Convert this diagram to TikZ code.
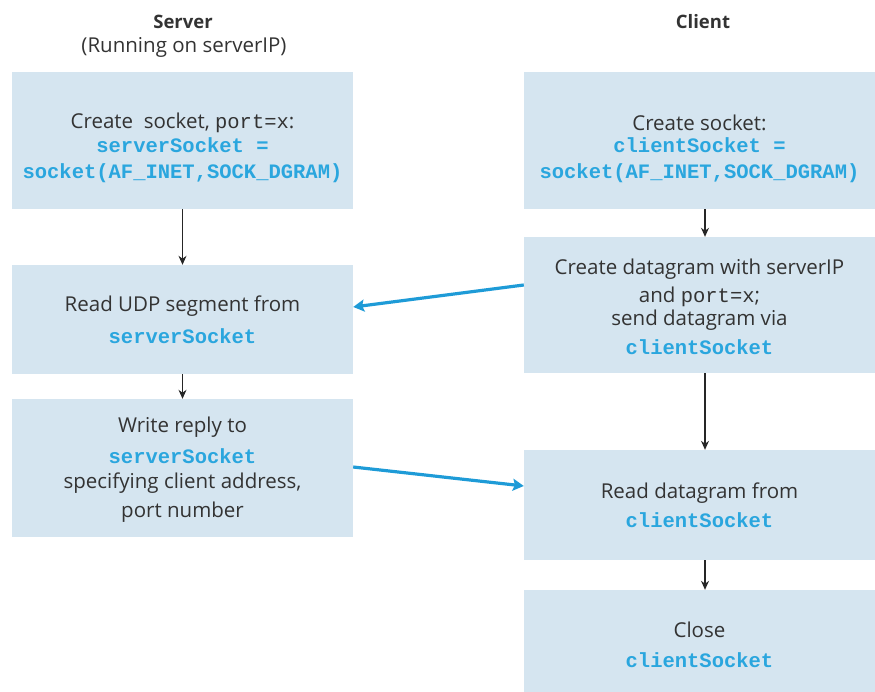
\documentclass[tikz,border=0pt]{standalone}
\usepackage{fontspec}
\setmainfont{Open Sans}
\setmonofont{Liberation Mono}
\usetikzlibrary{arrows.meta}
\definecolor{boxfill}{HTML}{D5E5F0}
\definecolor{codeblue}{HTML}{2AA6DE}
\definecolor{arrowblue}{HTML}{1E9BD7}
\definecolor{txt}{HTML}{333333}
\newcommand{\cde}[1]{{\fontsize{20.5}{26}\selectfont\ttfamily\bfseries\color{codeblue}#1}}
\newcommand{\ctt}[1]{{\fontsize{20.5}{26}\selectfont\ttfamily #1}}
\tikzset{
  stepbox/.style={rectangle, fill=boxfill, inner sep=0pt},
  boxtext/.style={inner sep=0pt, align=center, text=txt,
    font=\fontsize{20.5}{27}\selectfont},
  flow/.style={draw=black!85, line width=1.1pt, -{Stealth[length=9pt,width=8pt]}},
  msg/.style={draw=arrowblue, line width=3.2pt, -{Stealth[length=11pt,width=12pt,inset=2pt]}},
  title/.style={text=txt, font=\fontsize{20.5}{24}\selectfont},
  headtitle/.style={text=txt, font=\fontsize{18.5}{24}\selectfont\bfseries}
}
\begin{document}
\begin{tikzpicture}[x=1pt,y=-1pt]
\useasboundingbox (0,0) rectangle (875,692);
% titles
\node[headtitle] (st) at (183,22) {Server};
\node[title] (sr) at (184,47) {(Running on serverIP)};
\node[headtitle] (ct) at (703,22) {Client};
% server boxes
\node[stepbox, minimum width=341pt, minimum height=137pt] (s1) at (182.5,140.5) {};
\node[stepbox, minimum width=341pt, minimum height=109pt] (s2) at (182.5,319.5) {};
\node[stepbox, minimum width=341pt, minimum height=138pt] (s3) at (182.5,468) {};
% client boxes
\node[stepbox, minimum width=351pt, minimum height=137pt] (c1) at (699.5,140.5) {};
\node[stepbox, minimum width=351pt, minimum height=136pt] (c2) at (699.5,305) {};
\node[stepbox, minimum width=351pt, minimum height=110pt] (c3) at (699.5,505) {};
\node[stepbox, minimum width=351pt, minimum height=102pt] (c4) at (699.5,641) {};
% box texts
\node[boxtext] (s1t) at ([yshift=-7.5pt]s1.center)
  {Create\ \ socket, \ctt{port=x}:\\[-3pt]\cde{serverSocket =}\\[-1pt]\cde{socket(AF\_INET,SOCK\_DGRAM)}};
\node[boxtext] (s2t) at (s2.center)
  {Read UDP segment from\\[5pt]\cde{serverSocket}};
\node[boxtext] (s3t) at ([yshift=-1.5pt]s3.center)
  {Write reply to\\[4pt]\cde{serverSocket}\\[-2pt]specifying client address,\\[2pt]port number};
\node[boxtext] (c1t) at ([yshift=-8.5pt]c1.center)
  {Create socket:\\[-5pt]\cde{clientSocket =}\\[-1pt]\cde{socket(AF\_INET,SOCK\_DGRAM)}};
\node[boxtext] (c2t) at ([yshift=-2pt]c2.center)
  {Create datagram with serverIP\\[1pt]and \ctt{port=x};\\[-4pt]send datagram via\\[2pt]\cde{clientSocket}};
\node[boxtext] (c3t) at (c3.center)
  {Read datagram from\\[2pt]\cde{clientSocket}};
\node[boxtext] (c4t) at ([yshift=-4pt]c4.center)
  {Close\\[3pt]\cde{clientSocket}};
% vertical flow arrows
\draw[flow] (s1.south) -- (s2.north);
\draw[flow] (s2.south) -- (s3.north);
\draw[flow] ([xshift=5.5pt]c1.south) -- ([xshift=5.5pt]c2.north);
\draw[flow] ([xshift=5.5pt]c2.south) -- ([xshift=5.5pt]c3.north);
\draw[flow] ([xshift=5.5pt]c3.south) -- ([xshift=5.5pt]c4.north);
% message arrows
\draw[msg] ([yshift=20pt]c2.west) -- ([yshift=12.5pt]s2.east);
\draw[msg] ([yshift=1pt]s3.east) -- ([yshift=19pt]c3.west);
\end{tikzpicture}
\end{document}
